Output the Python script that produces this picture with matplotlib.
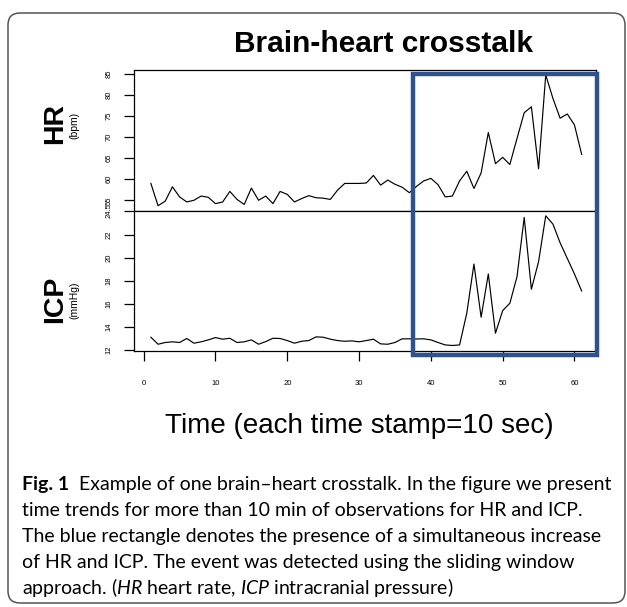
import numpy as np
import matplotlib
matplotlib.use("Agg")
import matplotlib.pyplot as plt
from matplotlib.patches import FancyBboxPatch, Rectangle
from matplotlib.transforms import blended_transform_factory, IdentityTransform

# values (one sample per time stamp)
time = np.arange(1, 62)
hr = [59.0, 53.7, 54.8, 58.2, 55.8, 54.6, 55.0, 56.0, 55.7, 54.2,
      54.6, 57.1, 55.2, 54.0, 57.9, 55.0, 56.0, 54.2, 57.1, 56.4,
      54.6, 55.4, 56.1, 55.6, 55.5, 55.2, 57.4, 59.0, 59.0, 59.0,
      59.1, 60.9, 58.6, 59.8, 58.8, 58.1, 56.8, 58.3, 59.6, 60.2,
      58.7, 55.8, 56.0, 59.6, 61.9, 57.8, 61.5, 71.1, 63.7, 65.2,
      63.5, 69.7, 75.8, 77.2, 62.5, 84.8, 79.2, 74.5, 75.5, 72.9, 65.9]
icp = [13.10, 12.49, 12.64, 12.70, 12.64, 12.99, 12.58, 12.70, 12.87, 13.07,
       12.93, 13.01, 12.64, 12.70, 12.87, 12.49, 12.72, 13.01, 12.99, 12.81,
       12.58, 12.75, 12.81, 13.13, 13.10, 12.93, 12.81, 12.75, 12.78, 12.70,
       12.81, 12.93, 12.52, 12.49, 12.64, 12.96, 12.96, 12.95, 12.96, 12.87,
       12.64, 12.43, 12.38, 12.43, 15.19, 19.48, 14.84, 18.61, 13.45, 15.42,
       16.06, 18.38, 23.54, 17.28, 19.68, 23.68, 22.96, 21.33, 19.97, 18.61, 17.13]

hr_ticks = [55, 60, 65, 70, 75, 80, 85]
icp_ticks = [12, 14, 16, 18, 20, 22, 24.1]
icp_tick_labels = ["12", "14", "16", "18", "20", "22", "24.5"]
time_ticks = [0, 10, 20, 30, 40, 50, 60]
event_window = (37.5, 63.1)   # detected window (time stamps)

caption_label = "Fig. 1"
caption = [
    "Example of one brain\u2013heart crosstalk. In the figure we present",
    "time trends for more than 10 min of observations for HR and ICP.",
    "The blue rectangle denotes the presence of a simultaneous increase",
    "of HR and ICP. The event was detected using the sliding window",
    "approach. ($\\mathit{HR}$ heart rate, $\\mathit{ICP}$ intracranial pressure)",
]
cap_font = "Lato"

plt.rcParams["font.family"] = "Liberation Sans"
plt.rcParams["mathtext.fontset"] = "custom"
plt.rcParams["mathtext.rm"] = cap_font
plt.rcParams["mathtext.it"] = cap_font + ":italic"
plt.rcParams["mathtext.bf"] = cap_font + ":bold"

W, H = 627, 607
fig = plt.figure(figsize=(W / 100, H / 100), dpi=100)


def fx(px):
    return px / W


def fy(py):
    return 1 - py / H


# rounded outer frame
frame = FancyBboxPatch((8, H - 603), 617, 590, boxstyle="round,pad=0,rounding_size=12",
                       transform=IdentityTransform(), fc="none", ec="#555555", lw=1.1)
fig.add_artist(frame)

left, right = 134, 596
ax1 = fig.add_axes([fx(left), fy(211), fx(right) - fx(left), fy(70) - fy(211)])
ax2 = fig.add_axes([fx(left), fy(351), fx(right) - fx(left), fy(211) - fy(351)])

ax1.plot(time, hr, color="black", lw=0.85)
ax2.plot(time, icp, color="black", lw=0.85)

for ax in (ax1, ax2):
    ax.set_xlim(-1.35, 63.0)
    for s in ax.spines.values():
        s.set_linewidth(0.9)
    ax.tick_params(axis="y", length=7.5, width=0.9, pad=8, labelsize=5.5)

ax1.set_ylim(52.45, 85.95)
ax1.set_yticks(hr_ticks)
ax1.set_xticks([])
plt.setp(ax1.get_yticklabels(), rotation=90, va="center")

ax2.set_ylim(11.9, 24.1)
ax2.set_yticks(icp_ticks)
ax2.set_yticklabels(icp_tick_labels)
plt.setp(ax2.get_yticklabels(), rotation=90, va="center")
ax2.set_xticks(time_ticks)
ax2.tick_params(axis="x", length=7.2, width=0.9, pad=13.5, labelsize=5.5)

# blue box marking the detected event
box_tr = blended_transform_factory(ax2.transData, fig.transFigure)
box = Rectangle((event_window[0], fy(354.5)), event_window[1] - event_window[0],
                fy(74) - fy(354.5), transform=box_tr, fill=False,
                ec="#2e5290", lw=3.2, joinstyle="miter", clip_on=False, zorder=5)
fig.add_artist(box)

fig.text(fx(383), fy(52), "Brain-heart crosstalk", ha="center", va="baseline",
         fontsize=21.5, fontweight="bold")
fig.text(fx(61.7), fy(123), "HR", rotation=90, rotation_mode="anchor",
         ha="center", va="baseline", fontsize=20.5, fontweight="bold")
fig.text(fx(77), fy(125), "(bpm)", rotation=90, rotation_mode="anchor",
         ha="center", va="baseline", fontsize=7.5)
fig.text(fx(61.7), fy(299), "ICP", rotation=90, rotation_mode="anchor",
         ha="center", va="baseline", fontsize=20.5, fontweight="bold")
fig.text(fx(77), fy(300), "(mmHg)", rotation=90, rotation_mode="anchor",
         ha="center", va="baseline", fontsize=7.5)
fig.text(fx(359), fy(433), "Time (each time stamp=10 sec)", ha="center",
         va="baseline", fontsize=20)

# caption: bold "Fig. 1" then the text, sized so line 1 spans the frame
size = 13
gap_em = 0.5   # space after "Fig. 1"
label = fig.text(fx(22), fy(490), caption_label, family=cap_font, fontsize=size,
                 fontweight="bold", va="baseline", ha="left")
cap_texts = []
for i, line in enumerate(caption):
    t = fig.text(fx(22), fy(490 + 26 * i), line, family=cap_font,
                 fontsize=size, va="baseline", ha="left")
    cap_texts.append(t)
fig.canvas.draw()
r = fig.canvas.get_renderer()
lw = label.get_window_extent(r).width
w = lw + gap_em * size * 100 / 72 + cap_texts[0].get_window_extent(r).width
size = size * (610 - 22) / w
label.set_fontsize(size)
for t in cap_texts:
    t.set_fontsize(size)
fig.canvas.draw()
shift = label.get_window_extent(r).width + gap_em * size * 100 / 72
cap_texts[0].set_x(fx(22 + shift))

fig.savefig("out.png", dpi=100)
